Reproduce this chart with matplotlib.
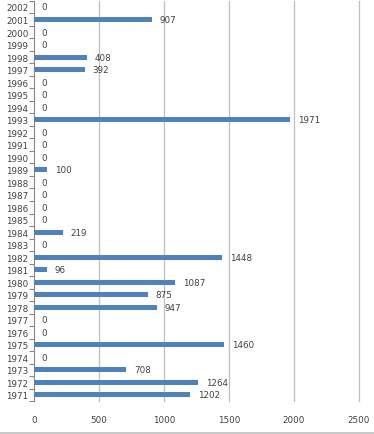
import matplotlib

matplotlib.use("Agg")
import matplotlib.pyplot as plt
from matplotlib.lines import Line2D
from matplotlib.ticker import FixedLocator

years = [str(y) for y in range(1971, 2003)]
values = [1202, 1264, 708, 0, 1460, 0, 0, 947, 875, 1087,
          96, 1448, 0, 219, 0, 0, 0, 0, 100, 0,
          0, 0, 1971, 0, 0, 0, 392, 408, 0, 0,
          907, 0]
x_ticks = [0, 500, 1000, 1500, 2000, 2500]

bar_color = "#4F81BD"
grid_color = "#BFBFBF"
text_color = "#404040"

fig = plt.figure(figsize=(3.74, 4.35), dpi=100)
ax = fig.add_axes([0.091, 0.0753, 0.869, 0.9207])

pos = list(range(len(years)))
ax.barh(pos, values, height=0.4, color=bar_color, zorder=3)
for p, v in zip(pos, values):
    ax.text(v + 60, p, str(v), va="center", ha="left", fontsize=6.3, color=text_color)

ax.set_xlim(0, 2500)
ax.set_ylim(-0.5, len(years) - 0.5)
ax.set_xticks(x_ticks)
ax.set_yticks(pos)
ax.set_yticklabels(years)
ax.yaxis.set_minor_locator(FixedLocator([p - 0.5 for p in pos] + [len(years) - 0.5]))
ax.tick_params(axis="y", which="major", length=0, labelsize=6.3, labelcolor=text_color, pad=4)
ax.tick_params(axis="y", which="minor", length=3.5, color="#868686", width=0.8)
ax.tick_params(axis="x", length=0, labelsize=6.3, labelcolor=text_color, pad=10)
# vertical gridlines, drawn unclipped so the one at 2500 shows fully
for t in x_ticks[1:]:
    ax.axvline(t, color=grid_color, linewidth=0.9, zorder=0, clip_on=False)
for side in ("top", "right", "bottom"):
    ax.spines[side].set_visible(False)
ax.spines["left"].set_color("#868686")
ax.spines["left"].set_linewidth(0.8)

fig.add_artist(Line2D([0, 1], [0.003, 0.003], color="#BFBFBF", linewidth=1.2,
                      transform=fig.transFigure))

fig.savefig("out.png", dpi=100)
